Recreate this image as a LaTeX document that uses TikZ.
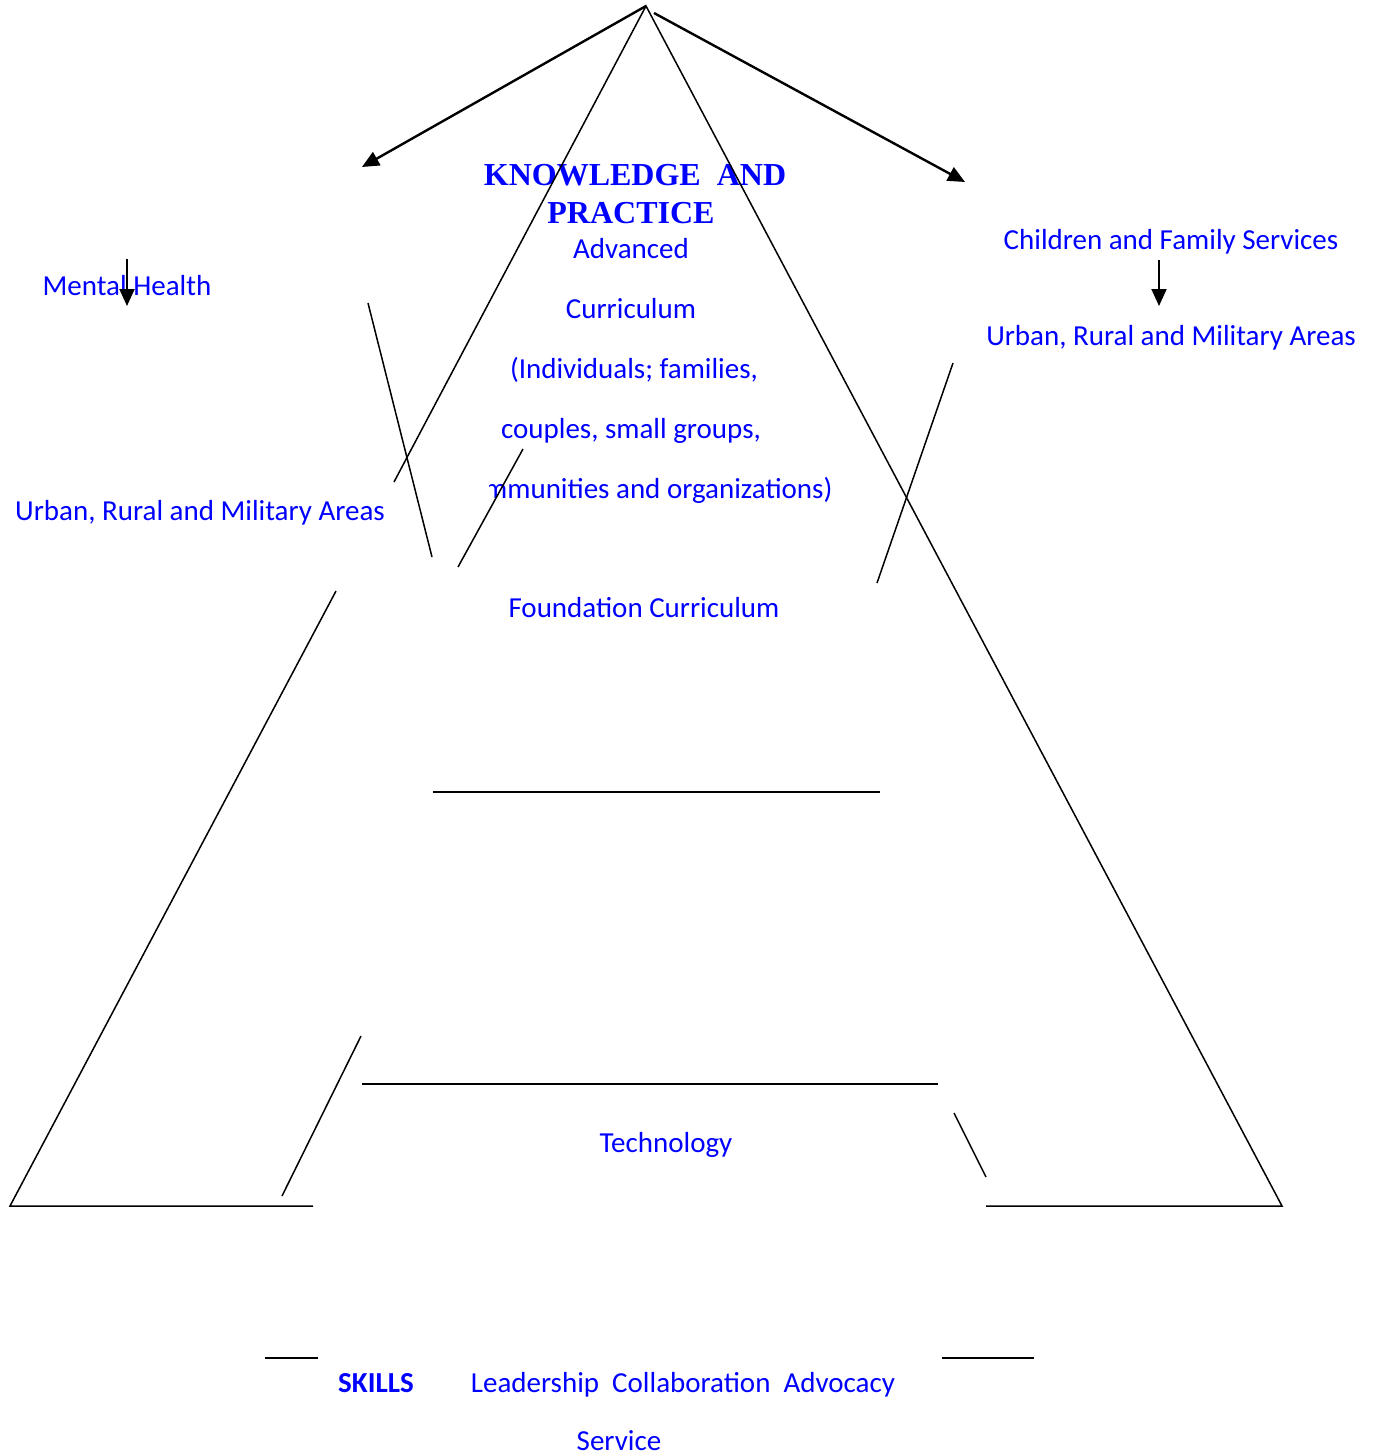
\documentclass[tikz,border=0pt]{standalone}
\usepackage{xcolor}
\usepackage{fontspec}
\setmainfont{Carlito}
\newfontfamily\titlefont{Liberation Serif}
\usetikzlibrary{arrows.meta}

\begin{document}
\begin{tikzpicture}[x=1pt,y=-1pt,>={Triangle[length=17pt,width=15pt]},
  label/.style={text=blue,font=\fontsize{29}{35}\selectfont,inner sep=0pt,anchor=base},
  heading/.style={text=blue,font=\titlefont\bfseries\fontsize{32}{38}\selectfont,inner sep=0pt,anchor=base},
  rule/.style={line width=1.5pt},
  bar/.style={line width=2pt},
  pointer/.style={->,line width=2.4pt}]
  \useasboundingbox (0,0) rectangle (1378,1456);

  \coordinate (apex)   at (646,6);
  \coordinate (baseL)  at (10,1206);
  \coordinate (baseR)  at (1282,1206);

  \node[heading] (know)     at (635,185)  {KNOWLEDGE\ \ AND};
  \node[heading] (practice) at (631,223)  {PRACTICE};
  \node[label]   (adv)      at (631,258)  {Advanced};
  \node[label]   (curr)     at (631,318)  {Curriculum};
  \node[label]   (indiv)    at (634,378)  {(Individuals; families,};
  \node[label]   (couples)  at (631,438)  {couples, small groups,};
  \begin{scope}
    \clip (489,460) rectangle (900,510);
    \node[label,anchor=base west] (comm) at (484,498) {mmunities and organizations)};
  \end{scope}
  \node[label]   (found)    at (644,617)  {Foundation Curriculum};
  \node[label]   (tech)     at (666,1152) {Technology};
  \node[label,font=\bfseries\fontsize{29}{35}\selectfont] (skills) at (376,1392) {SKILLS};
  \node[label]   (lead)     at (683,1392) {Leadership\ \ Collaboration\ \ Advocacy};
  \node[label]   (service)  at (619,1450) {Service};

  \node[label]   (mental)   at (127,295)  {Mental Health};
  \node[label]   (urbanL)   at (200,520)  {Urban, Rural and Military Areas};
  \node[label]   (children) at (1171,249) {Children and Family Services};
  \node[label]   (urbanR)   at (1171,345) {Urban, Rural and Military Areas};

  \coordinate (tipL) at (362,167);
  \coordinate (tailR) at (654,13);
  \coordinate (tipR) at (965,182);
  \coordinate (mentTop) at (127,259);
  \coordinate (mentBot) at (127,306);
  \coordinate (childTop) at (1159,260);
  \coordinate (childBot) at (1159,306);

  \draw[pointer] (apex) -- (tipL);
  \draw[pointer] (tailR) -- (tipR);
  \draw[pointer,line width=2pt] (mentTop) -- (mentBot);
  \draw[pointer,line width=2pt] (childTop) -- (childBot);

  \draw[rule] (394,482) -- (apex) -- (baseR) -- (986,1206);
  \draw[rule] (336,591) -- (baseL) -- (313,1206);
  \draw[rule] (368,303) -- (432,557);
  \draw[rule] (523,449) -- (458,567);
  \draw[rule] (953,363) -- (877,583);
  \draw[rule] (361,1036) -- (282,1196);
  \draw[rule] (954,1113) -- (986,1177);

  \draw[bar] (433,792) -- (880,792);
  \draw[bar] (362,1084) -- (938,1084);
  \draw[bar] (265,1358) -- (318,1358);
  \draw[bar] (942,1358) -- (1034,1358);
\end{tikzpicture}
\end{document}
